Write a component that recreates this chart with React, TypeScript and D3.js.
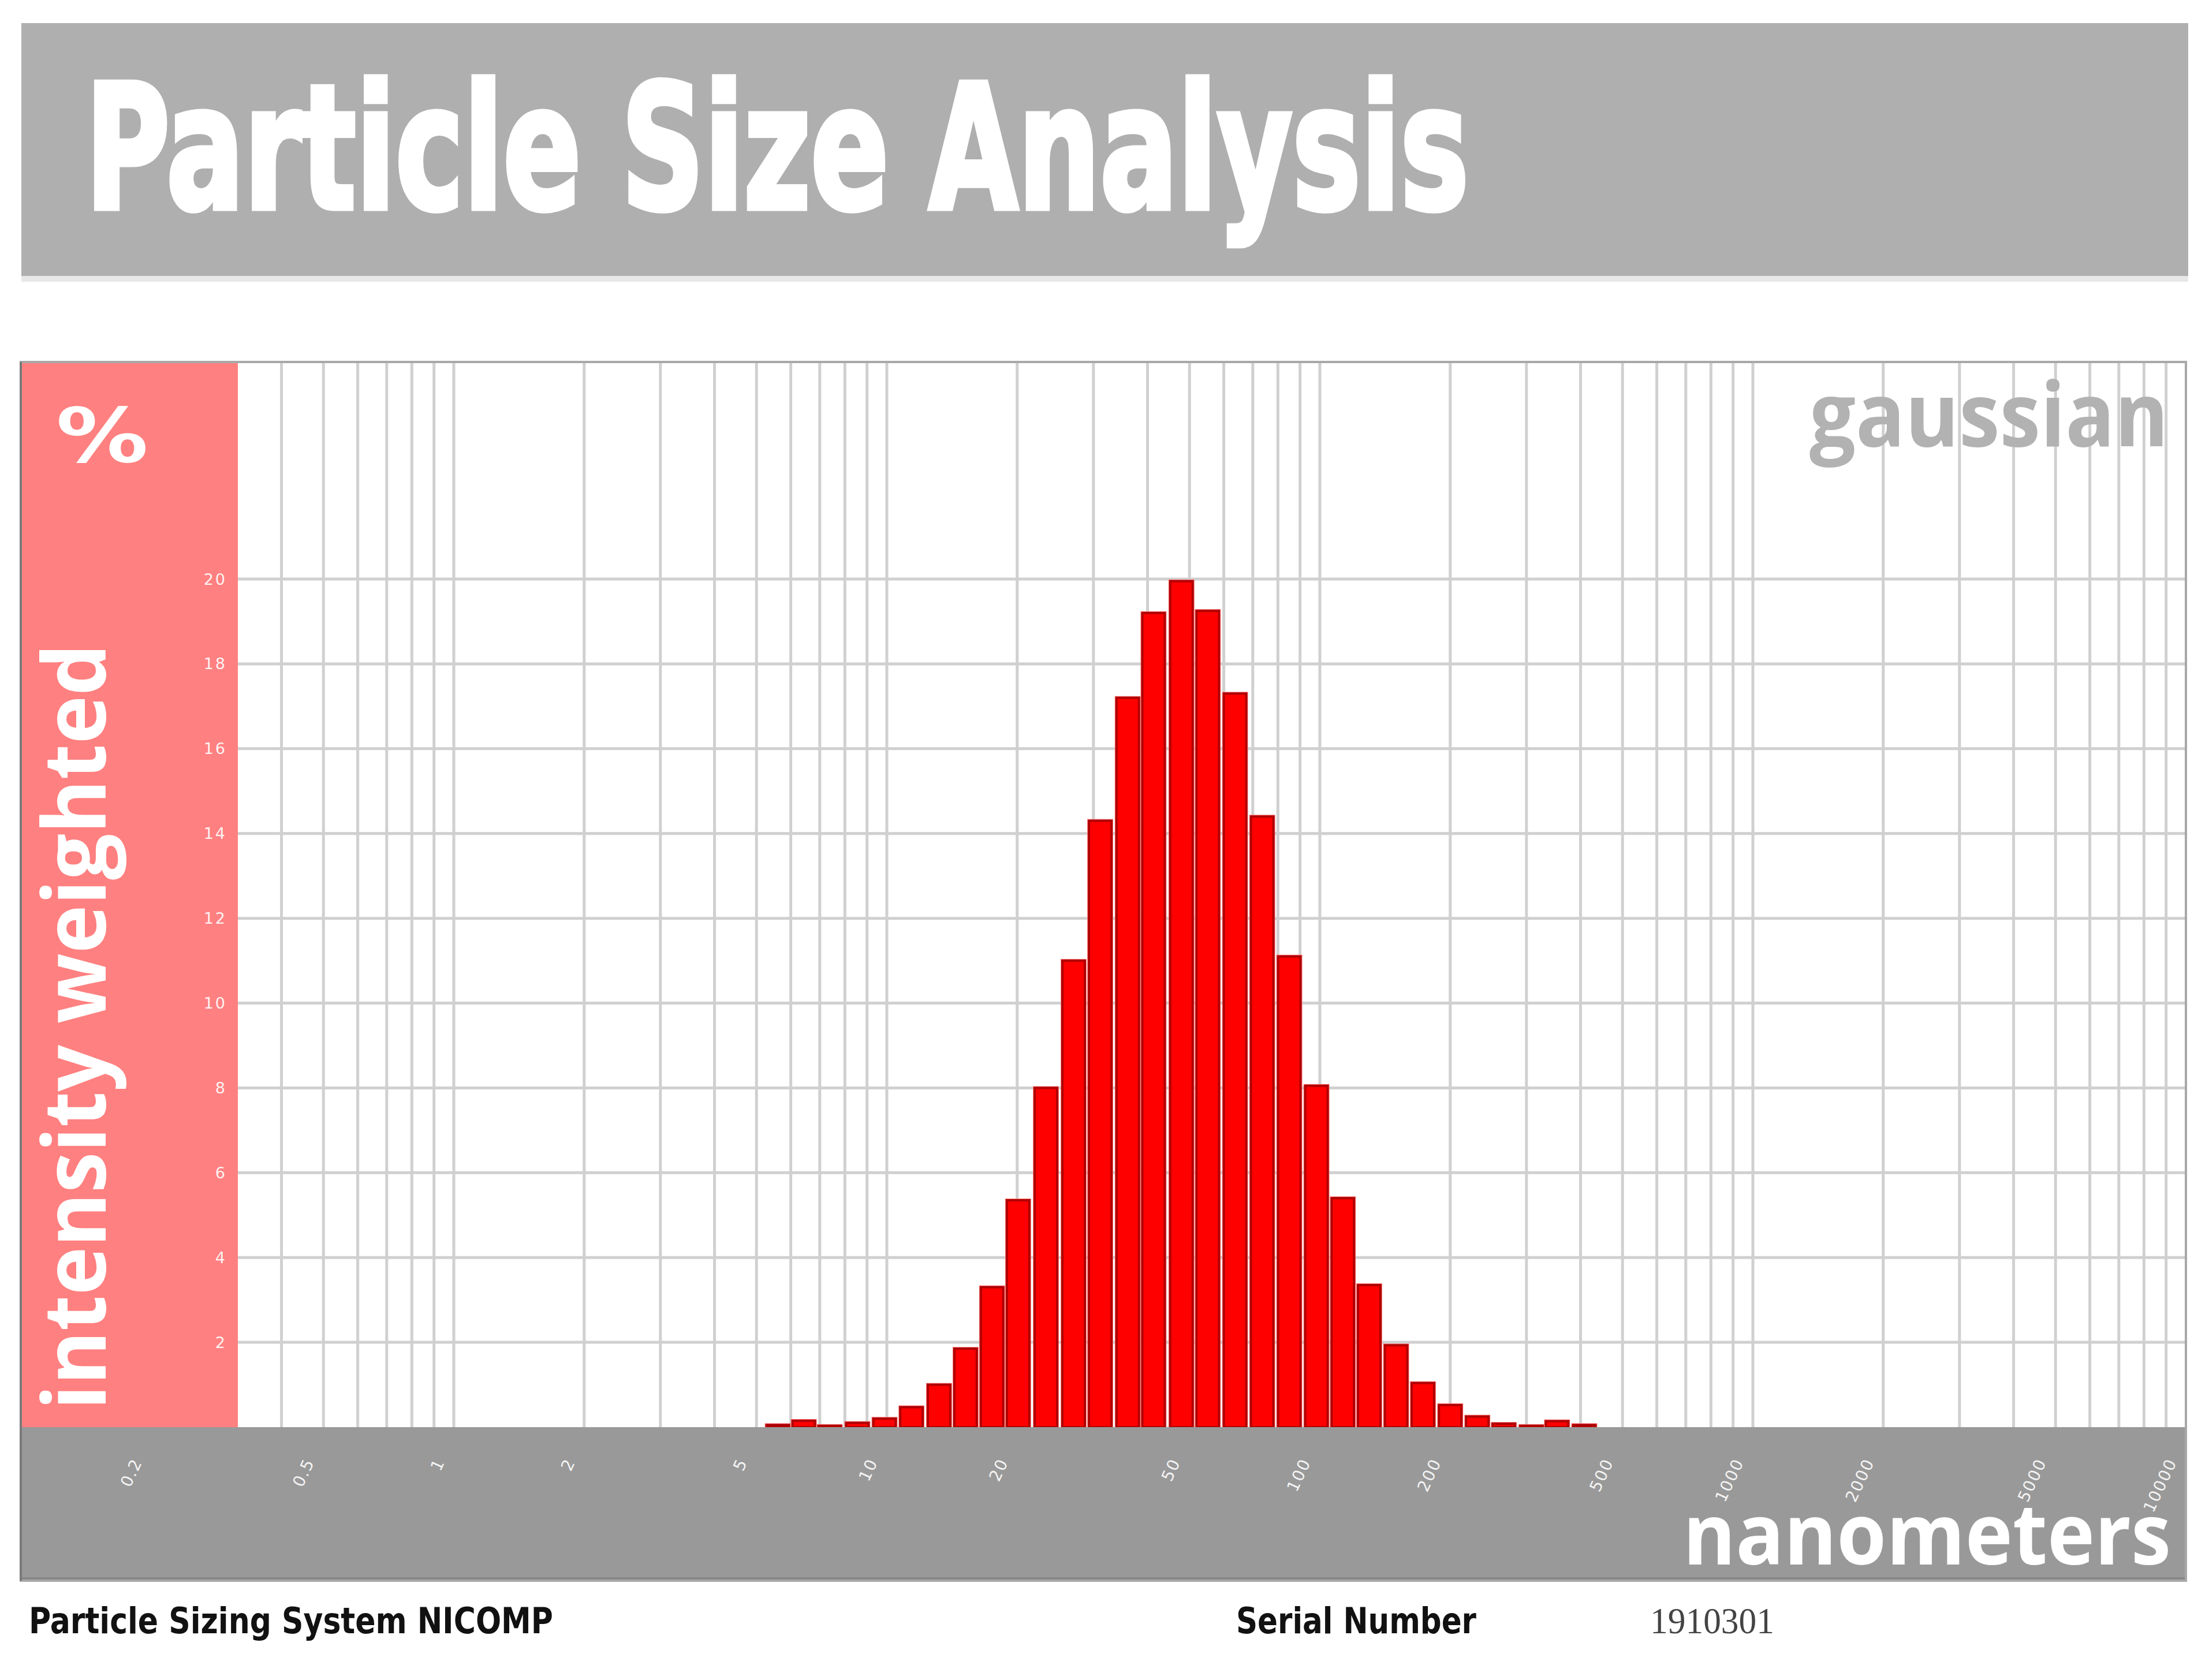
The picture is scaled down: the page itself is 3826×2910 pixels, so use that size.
import { useEffect, useRef } from "react";
import * as d3 from "d3";

const W = 3826;
const H = 2910;

// bar centres (nm)
const diameters = [
  5.6, 6.43, 7.38, 8.55, 9.88, 11.4, 13.2, 15.2, 17.5, 20.1, 23.3, 27.0, 31.1, 36.0, 41.3, 47.9,
  55.1, 63.7, 73.6, 85.0, 98.2, 113, 130, 150, 173, 200, 231, 266, 308, 353, 408,
];
// bar heights (% intensity weighted)
const intensities = [
  0.05, 0.15, 0.03, 0.1, 0.2, 0.47, 1.0, 1.85, 3.3, 5.35, 8.0, 11.0, 14.3, 17.2, 19.2, 19.95,
  19.25, 17.3, 14.4, 11.1, 8.05, 5.4, 3.35, 1.93, 1.04, 0.52, 0.25, 0.08, 0.03, 0.14, 0.05,
];
const yTicks = [2, 4, 6, 8, 10, 12, 14, 16, 18, 20];
const xLabels = [0.2, 0.5, 1, 2, 5, 10, 20, 50, 100, 200, 500, 1000, 2000, 5000, 10000];

export default function App() {
  const ref = useRef<SVGSVGElement>(null);

  useEffect(() => {
    const svg = d3.select(ref.current);
    svg.selectAll("*").remove();

    const left = 36;
    const right = 3786;
    const top = 627;
    const bottom = 2472;
    const bandBottom = 2738;
    const panelRight = 412;

    const x = d3.scaleLog().domain([0.1, 10000]).range([left, right]);
    const y = d3.scaleLinear().domain([0, 25.12]).range([bottom, top]);

    svg.append("rect").attr("width", W).attr("height", H).attr("fill", "#fff");

    // --- title banner ---
    svg.append("rect").attr("x", 37).attr("y", 40).attr("width", 3753).attr("height", 438).attr("fill", "#afafaf");
    svg.append("rect").attr("x", 37).attr("y", 478).attr("width", 3753).attr("height", 10).attr("fill", "#e8e8e8");
    svg
      .append("text")
      .attr("x", 148)
      .attr("y", 361)
      .attr("font-family", "'Liberation Sans Narrow', 'DejaVu Sans Condensed', 'Liberation Sans', sans-serif")
      .attr("font-weight", "bold")
      .attr("font-size", 300)
      .attr("textLength", 2396)
      .attr("lengthAdjust", "spacingAndGlyphs")
      .attr("fill", "#fff")
      .attr("stroke", "#fff")
      .attr("stroke-width", 9)
      .text("Particle Size Analysis");

    // --- grid ---
    const grid = svg.append("g").attr("stroke", "#d0d0d0").attr("stroke-width", 5);
    grid
      .selectAll("line.v")
      .data(x.ticks().filter((t) => x(t) > panelRight && x(t) < right - 2))
      .join("line")
      .attr("x1", (d) => x(d))
      .attr("x2", (d) => x(d))
      .attr("y1", top)
      .attr("y2", bottom);
    grid
      .selectAll("line.h")
      .data(yTicks)
      .join("line")
      .attr("x1", left)
      .attr("x2", right)
      .attr("y1", (d) => y(d))
      .attr("y2", (d) => y(d));

    // --- bars (16 bins per decade, drawn in log space) ---
    const half = Math.pow(10, 1 / 32);
    const gap = 8;
    const bar = svg
      .append("g")
      .selectAll("g")
      .data(diameters.map((d, i) => ({ d, v: intensities[i] })))
      .join("g");
    bar
      .append("rect")
      .attr("x", (p) => x(p.d / half) + gap / 2 - 3)
      .attr("width", (p) => x(p.d * half) - x(p.d / half) - gap + 6)
      .attr("y", (p) => y(p.v) - 3)
      .attr("height", (p) => bottom - y(p.v) + 3)
      .attr("fill", "#ff7878");
    bar
      .append("rect")
      .attr("x", (p) => x(p.d / half) + gap / 2)
      .attr("width", (p) => x(p.d * half) - x(p.d / half) - gap)
      .attr("y", (p) => y(p.v))
      .attr("height", (p) => bottom - y(p.v))
      .attr("fill", "#ff0000")
      .attr("stroke", "#b00000")
      .attr("stroke-width", 4);

    // --- pink y panel ---
    svg
      .append("rect")
      .attr("x", left)
      .attr("y", top)
      .attr("width", panelRight - left)
      .attr("height", bottom - top)
      .attr("fill", "#ff8080");

    svg
      .append("g")
      .selectAll("text")
      .data(yTicks)
      .join("text")
      .attr("x", 393)
      .attr("y", (d) => y(d))
      .attr("text-anchor", "end")
      .attr("dominant-baseline", "central")
      .attr("font-family", "'DejaVu Sans', sans-serif")
      .attr("font-size", 27)
      .attr("letter-spacing", 3)
      .attr("fill", "#fff")
      .attr("opacity", 0.9)
      .text((d) => d);

    svg
      .append("text")
      .attr("x", 97)
      .attr("y", 800)
      .attr("font-family", "'DejaVu Sans', sans-serif")
      .attr("font-weight", "bold")
      .attr("font-size", 130)
      .attr("textLength", 160)
      .attr("lengthAdjust", "spacingAndGlyphs")
      .attr("fill", "#fff")
      .text("%");

    svg
      .append("text")
      .attr("transform", "translate(183,2442) rotate(-90)")
      .attr("font-family", "'Open Sans', 'DejaVu Sans', sans-serif")
      .attr("font-weight", "bold")
      .attr("font-size", 150)
      .attr("textLength", 1327)
      .attr("lengthAdjust", "spacingAndGlyphs")
      .attr("fill", "#fff")
      .text("intensity weighted");

    // --- x band ---
    svg
      .append("rect")
      .attr("x", left)
      .attr("y", bottom)
      .attr("width", right - left)
      .attr("height", bandBottom - bottom)
      .attr("fill", "#999999");
    svg
      .append("line")
      .attr("x1", left)
      .attr("x2", right)
      .attr("y1", bandBottom - 3)
      .attr("y2", bandBottom - 3)
      .attr("stroke", "#878787")
      .attr("stroke-width", 6);

    svg
      .append("g")
      .selectAll("text")
      .data(xLabels)
      .join("text")
      .attr("transform", (d) => `translate(${x(d) - 15},2532) rotate(-65)`)
      .attr("text-anchor", "end")
      .attr("font-family", "'DejaVu Sans', sans-serif")
      .attr("font-size", 28)
      .attr("letter-spacing", 2)
      .attr("fill", "#fff")
      .attr("opacity", 0.9)
      .text((d) => String(d));

    svg
      .append("text")
      .attr("x", 2915)
      .attr("y", 2710)
      .attr("font-family", "'Open Sans', 'DejaVu Sans', sans-serif")
      .attr("font-weight", "bold")
      .attr("font-size", 148)
      .attr("textLength", 845)
      .attr("lengthAdjust", "spacingAndGlyphs")
      .attr("fill", "#fff")
      .text("nanometers");

    svg
      .append("text")
      .attr("x", 3134)
      .attr("y", 773)
      .attr("font-family", "'Open Sans', 'DejaVu Sans', sans-serif")
      .attr("font-weight", "bold")
      .attr("font-size", 155)
      .attr("textLength", 622)
      .attr("lengthAdjust", "spacingAndGlyphs")
      .attr("fill", "#b2b2b2")
      .text("gaussian");

    // --- frame ---
    svg
      .append("rect")
      .attr("x", left)
      .attr("y", top)
      .attr("width", right - left)
      .attr("height", bandBottom - top)
      .attr("fill", "none")
      .attr("stroke", "#a8a8a8")
      .attr("stroke-width", 4);
    svg
      .append("line")
      .attr("x1", left)
      .attr("x2", left)
      .attr("y1", top)
      .attr("y2", bandBottom)
      .attr("stroke", "#7a7a7a")
      .attr("stroke-width", 4);

    // --- footer ---
    const footer = svg.append("g").attr("fill", "#111");
    footer
      .append("text")
      .attr("x", 50)
      .attr("y", 2829)
      .attr("font-family", "'DejaVu Sans', sans-serif")
      .attr("font-weight", "bold")
      .attr("font-size", 62)
      .attr("textLength", 908)
      .attr("lengthAdjust", "spacingAndGlyphs")
      .text("Particle Sizing System NICOMP");
    footer
      .append("text")
      .attr("x", 2141)
      .attr("y", 2829)
      .attr("font-family", "'DejaVu Sans', sans-serif")
      .attr("font-weight", "bold")
      .attr("font-size", 62)
      .attr("textLength", 416)
      .attr("lengthAdjust", "spacingAndGlyphs")
      .text("Serial Number");
    footer
      .append("text")
      .attr("x", 2858)
      .attr("y", 2829)
      .attr("font-family", "'Liberation Serif', serif")
      .attr("font-size", 64)
      .attr("textLength", 215)
      .attr("lengthAdjust", "spacingAndGlyphs")
      .attr("fill", "#444")
      .text("1910301");
  }, []);

  return (
    <svg
      ref={ref}
      width={W}
      height={H}
      style={{ position: "absolute", left: 0, top: 0, display: "block" }}
    />
  );
}
